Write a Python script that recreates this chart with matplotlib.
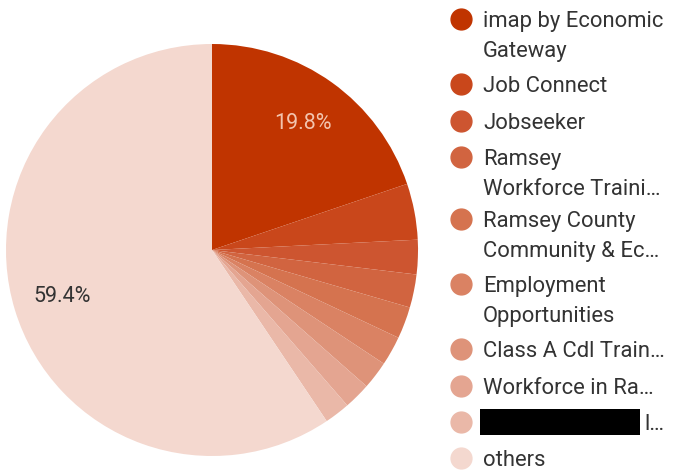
import matplotlib.pyplot as plt
from matplotlib.lines import Line2D
from matplotlib.patches import Rectangle

plt.rcParams['font.family'] = ['Roboto', 'DejaVu Sans']

labels = ["imap by Economic\nGateway", "Job Connect", "Jobseeker",
          "Ramsey\nWorkforce Traini…", "Ramsey County\nCommunity & Ec…",
          "Employment\nOpportunities", "Class A Cdl Train…",
          "Workforce in Ra…", "l…", "others"]
shares = [19.8, 4.4, 2.7, 2.6, 2.5, 2.3, 2.2, 2.1, 2.0, 59.4]
colors = ["#c03400", "#c9471b", "#cd5530", "#d16440", "#d5734f",
          "#da8263", "#de9379", "#e4a591", "#eab8a8", "#f4d8cf"]

fig = plt.figure(figsize=(6.73, 4.77), dpi=100)
W, H = 673, 477
cx, cy, r = 212, 251, 206
ax = fig.add_axes([(cx - r) / W, (H - cy - r) / H, 2 * r / W, 2 * r / H])


def pct(v):
    return f"{v:.1f}%" if v > 10 else ""


wedges, texts, autotexts = ax.pie(shares, colors=colors, startangle=90, counterclock=False,
                                  autopct=pct, pctdistance=0.76, radius=1,
                                  wedgeprops=dict(linewidth=0),
                                  textprops=dict(fontsize=15.5))
autotexts[0].set_color("#f3c4ae")
autotexts[-1].set_color("#333333")
ax.set_xlim(-1, 1)
ax.set_ylim(-1, 1)
ax.set_aspect('equal')
ax.axis('off')

# legend drawn by hand, one text per line
rows = [20, 85, 122, 158, 220, 285, 350, 387, 423, 459]
for i, (lab, col, y) in enumerate(zip(labels, colors, rows)):
    fig.add_artist(Line2D([461 / W], [1 - y / H], marker='o', markersize=15,
                          color=col, transform=fig.transFigure))
    tx = 644 if i == 8 else 483
    for k, line in enumerate(lab.split("\n")):
        fig.text(tx / W, 1 - (y + 7 + 30 * k) / H, line, fontsize=15.8,
                 color="#333333", va='baseline', ha='left')

# redacted label
fig.add_artist(Rectangle((480 / W, 1 - 436 / H), 160 / W, 26 / H,
                         facecolor='black', transform=fig.transFigure))

fig.savefig("out.png", dpi=100)
